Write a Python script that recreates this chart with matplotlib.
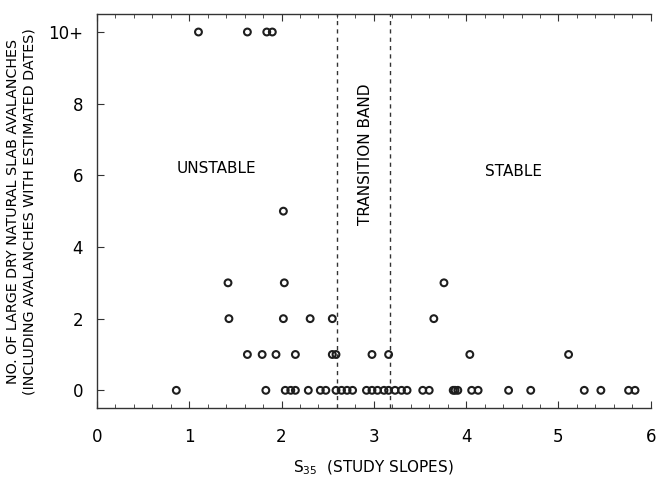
import matplotlib.pyplot as plt
from matplotlib.ticker import MultipleLocator

# slope values (S35) for each avalanche-count level
x_10 = [1.10, 1.63, 1.84, 1.90]
x_5 = [2.02]
x_3 = [1.42, 2.03, 3.76]
x_2 = [1.43, 2.02, 2.31, 2.55, 3.65]
x_1 = [1.63, 1.79, 1.94, 2.15, 2.55, 2.59, 2.98, 3.16, 4.04, 5.11]
x_0 = [0.86, 1.83, 2.04, 2.10, 2.15, 2.29, 2.42, 2.48, 2.59, 2.65, 2.71,
       2.77, 2.92, 2.98, 3.04, 3.11, 3.16, 3.23, 3.30, 3.36, 3.53, 3.60,
       3.86, 3.88, 3.91, 4.06, 4.13, 4.46, 4.70, 5.28, 5.46, 5.76, 5.83]

band_edges = [2.60, 3.17]
y_ticks = [0, 2, 4, 6, 8, 10]
y_labels = ['0', '2', '4', '6', '8', '10+']

plt.rcParams['font.family'] = ['DejaVu Sans']

fig = plt.figure(figsize=(6.64, 4.86), dpi=100)
ax = fig.add_axes([0.146, 0.160, 0.834, 0.811])

groups = [(x_10, 10), (x_5, 5), (x_3, 3), (x_2, 2), (x_1, 1), (x_0, 0)]
for xs, yv in groups:
    ax.scatter(xs, [yv] * len(xs), s=24, facecolors='none',
               edgecolors='#1e1e1e', linewidths=1.5, zorder=3)

# transition band limits
for xb in band_edges:
    ax.axvline(xb, color='#333333', lw=1.0, ls=(0, (3, 3)))

ax.text(1.29, 6.19, 'UNSTABLE', ha='center', va='center', fontsize=11)
ax.text(4.51, 6.11, 'STABLE', ha='center', va='center', fontsize=11)
ax.text(2.91, 6.6, 'TRANSITION BAND', ha='center', va='center',
        rotation=90, fontsize=11)

ax.set_xlim(0, 6)
ax.set_ylim(-0.5, 10.5)
ax.xaxis.set_major_locator(MultipleLocator(1))
ax.xaxis.set_minor_locator(MultipleLocator(0.2))
ax.set_yticks(y_ticks)
ax.set_yticklabels(y_labels)

ax.tick_params(axis='both', which='both', direction='in', top=True,
               right=False, color='#333333', labelsize=12)
ax.tick_params(axis='x', which='major', length=5, pad=14)
ax.tick_params(axis='x', which='minor', length=3)
ax.tick_params(axis='y', which='major', length=5, pad=10)

ax.spines['right'].set_visible(False)
for sp in ax.spines.values():
    sp.set_linewidth(1.0)
    sp.set_color('#333333')

ax.set_xlabel(r'S$_{\mathregular{35}}$  (STUDY SLOPES)', fontsize=11,
              labelpad=9)
ax.set_ylabel('NO. OF LARGE DRY NATURAL SLAB AVALANCHES\n'
              '(INCLUDING AVALANCHES WITH ESTIMATED DATES)',
              fontsize=10.3, labelpad=8, linespacing=1.25)

fig.savefig('out.png', dpi=100, facecolor='white')
